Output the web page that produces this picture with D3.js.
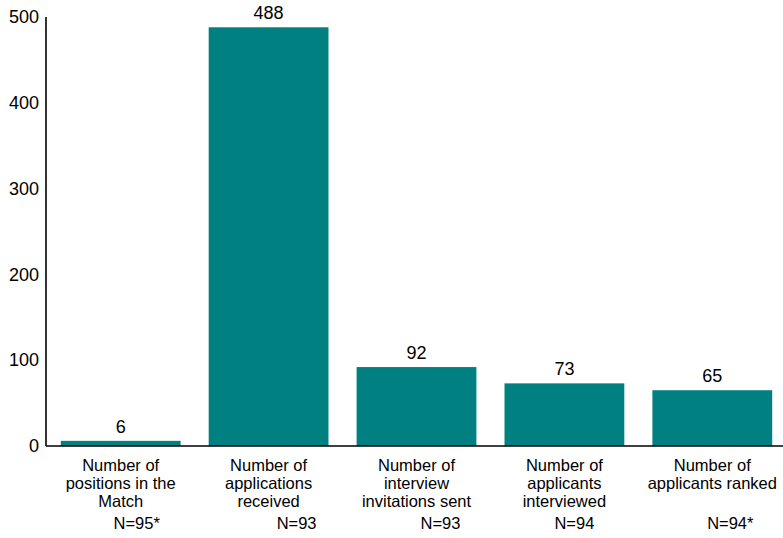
<!DOCTYPE html>
<html><head><meta charset="utf-8">
<script src="https://cdn.jsdelivr.net/npm/d3@7"></script>
<style>body{margin:0;background:#fff}svg{display:block}text{font-family:"Liberation Sans",Arial,sans-serif;fill:#000}</style>
</head><body>
<svg id="c" width="783" height="538"></svg>
<script>
const categories = [
  ["Number of","positions in the","Match"],
  ["Number of","applications","received"],
  ["Number of","interview","invitations sent"],
  ["Number of","applicants","interviewed"],
  ["Number of","applicants ranked"]
];
const values = [6, 488, 92, 73, 65];
const nLabels = ["N=95*","N=93","N=93","N=94","N=94*"];
const yTicks = [0,100,200,300,400,500];
const nShift = [16, 28, 24, 10, 18];

(function(){
const svg = d3.select("#c");
const mLeft = 46, mRight = 787, mTop = 17, mBottom = 446;
const x = d3.scaleBand().domain(d3.range(values.length)).range([mLeft, mRight]).paddingInner(0.19).paddingOuter(0.1);
const y = d3.scaleLinear().domain([0,500]).range([mBottom, mTop]);

svg.selectAll("rect.bar").data(values).join("rect")
  .attr("x",(d,i)=>x(i)).attr("width",x.bandwidth())
  .attr("y",d=>y(d)).attr("height",d=>y(0)-y(d))
  .attr("fill","#008080");

svg.selectAll("text.val").data(values).join("text")
  .attr("x",(d,i)=>x(i)+x.bandwidth()/2).attr("y",d=>y(d)-8)
  .attr("text-anchor","middle").attr("font-size","18px").text(d=>d);

const yAxis = svg.append("g").attr("transform",`translate(${mLeft},0)`)
  .call(d3.axisLeft(y).tickValues(yTicks).tickSize(0).tickPadding(7));
yAxis.select(".domain").remove();
yAxis.selectAll("text").attr("font-size","18px").attr("font-family","Liberation Sans, Arial, sans-serif").attr("fill","#000");

svg.append("line").attr("x1",mLeft).attr("x2",mLeft).attr("y1",y(500)).attr("y2",y(0))
  .attr("stroke","#000").attr("stroke-width",1.6);
svg.append("line").attr("x1",mLeft).attr("x2",783).attr("y1",y(0)).attr("y2",y(0))
  .attr("stroke","#000").attr("stroke-width",1.6);

categories.forEach((lines,i)=>{
  const cx = x(i)+x.bandwidth()/2;
  lines.forEach((t,j)=>{
    svg.append("text").attr("x",cx).attr("y",471+j*18).attr("text-anchor","middle")
      .attr("font-size","16.5px").text(t);
  });
  svg.append("text").attr("x",cx+nShift[i]).attr("y",529).attr("text-anchor","middle")
    .attr("font-size","16.5px").text(nLabels[i]);
});
})();
</script>
</body></html>
